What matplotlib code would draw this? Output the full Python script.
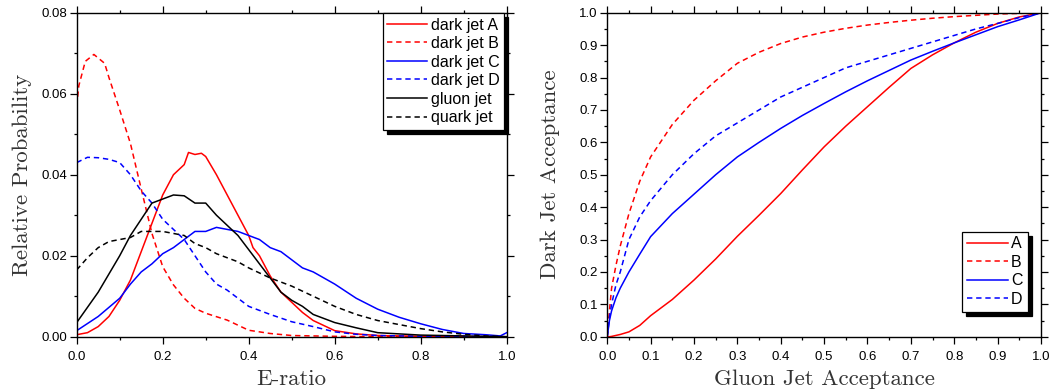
"""
E-ratio distributions and dark/gluon jet acceptance curves.
"""

import matplotlib
matplotlib.use("Agg")
import matplotlib.pyplot as plt
from matplotlib.ticker import MultipleLocator

# --- left panel: E-ratio distributions ---
x_a = [0.0, 0.025, 0.05, 0.075, 0.1, 0.125, 0.15, 0.175, 0.2, 0.225, 0.25, 0.26,
       0.275, 0.29, 0.3, 0.325, 0.35, 0.375, 0.4, 0.41, 0.425, 0.45, 0.475, 0.5,
       0.525, 0.55, 0.6, 0.65, 0.7, 0.8, 0.9, 1.0]
dark_a = [0.0005, 0.001, 0.0025, 0.005, 0.009, 0.014, 0.021, 0.028, 0.035, 0.040,
          0.0425, 0.0455, 0.045, 0.0453, 0.0445, 0.040, 0.035, 0.030, 0.025, 0.022,
          0.0200, 0.015, 0.011, 0.0085, 0.006, 0.004, 0.0015, 0.0007, 0.0003, 0.0001,
          0.0, 0.0]

x_b = [0.0, 0.005, 0.02, 0.04, 0.065, 0.075, 0.1, 0.125, 0.15, 0.175, 0.2, 0.225,
       0.25, 0.275, 0.3, 0.35, 0.4, 0.45, 0.5, 0.6, 0.7, 1.0]
dark_b = [0.057, 0.062, 0.068, 0.0697, 0.0675, 0.064, 0.056, 0.0477, 0.0365, 0.0255,
          0.0173, 0.0128, 0.0095, 0.007, 0.0058, 0.0041, 0.0016, 0.0008, 0.0003,
          0.0001, 0.0, 0.0]

x_c = [0.0, 0.05, 0.1, 0.125, 0.15, 0.175, 0.2, 0.225, 0.25, 0.275, 0.3, 0.325, 0.35,
       0.375, 0.4, 0.425, 0.45, 0.475, 0.5, 0.525, 0.55, 0.6, 0.65, 0.7, 0.75, 0.8,
       0.85, 0.9, 0.95, 0.985, 1.0]
dark_c = [0.0015, 0.005, 0.0095, 0.013, 0.016, 0.018, 0.0205, 0.022, 0.024, 0.026,
          0.026, 0.027, 0.0265, 0.026, 0.025, 0.024, 0.022, 0.021, 0.019, 0.017,
          0.016, 0.013, 0.0095, 0.0068, 0.0048, 0.0032, 0.0018, 0.0008, 0.0005,
          0.0002, 0.001]

x_d = [0.0, 0.025, 0.05, 0.075, 0.1, 0.125, 0.15, 0.175, 0.2, 0.225, 0.25, 0.275,
       0.3, 0.325, 0.35, 0.375, 0.4, 0.45, 0.5, 0.55, 0.6, 0.65, 0.7, 0.8, 1.0]
dark_d = [0.043, 0.0443, 0.0442, 0.0438, 0.043, 0.040, 0.036, 0.033, 0.029, 0.0265,
          0.024, 0.020, 0.016, 0.013, 0.0115, 0.0095, 0.0075, 0.0055, 0.0037, 0.0025,
          0.0012, 0.0006, 0.0003, 0.0001, 0.0]

x_g = [0.0, 0.05, 0.1, 0.125, 0.15, 0.175, 0.2, 0.225, 0.25, 0.275, 0.3, 0.325, 0.35,
       0.375, 0.4, 0.425, 0.45, 0.475, 0.5, 0.525, 0.55, 0.6, 0.65, 0.7, 0.75, 0.8,
       0.9, 1.0]
gluon = [0.0035, 0.011, 0.020, 0.025, 0.029, 0.033, 0.034, 0.035, 0.0348, 0.033,
         0.033, 0.030, 0.0275, 0.025, 0.0215, 0.018, 0.0145, 0.011, 0.009, 0.0075,
         0.0055, 0.0035, 0.0022, 0.001, 0.0007, 0.0004, 0.0002, 0.0]

x_q = [0.0, 0.025, 0.05, 0.075, 0.1, 0.125, 0.15, 0.175, 0.2, 0.225, 0.25, 0.275, 0.3,
       0.325, 0.35, 0.375, 0.4, 0.45, 0.5, 0.55, 0.6, 0.65, 0.7, 0.75, 0.8, 0.85, 0.9,
       0.95, 1.0]
quark = [0.0165, 0.0195, 0.022, 0.0235, 0.024, 0.0245, 0.026, 0.026, 0.026, 0.0255,
         0.025, 0.023, 0.022, 0.0205, 0.0195, 0.0185, 0.017, 0.0145, 0.0125, 0.010,
         0.0075, 0.0055, 0.004, 0.003, 0.002, 0.0012, 0.0006, 0.0002, 0.0]

# --- right panel: acceptance curves ---
acc_x = [0.0, 0.005, 0.01, 0.02, 0.03, 0.05, 0.075, 0.1, 0.15, 0.2, 0.25, 0.3, 0.35,
         0.4, 0.45, 0.5, 0.55, 0.6, 0.65, 0.7, 0.75, 0.8, 0.85, 0.9, 0.95, 1.0]
acc_a = [0.0, 0.0, 0.001, 0.004, 0.007, 0.015, 0.035, 0.065, 0.115, 0.175, 0.24,
         0.31, 0.375, 0.442, 0.515, 0.586, 0.65, 0.71, 0.77, 0.828, 0.87, 0.907,
         0.94, 0.967, 0.987, 1.0]
acc_b = [0.0, 0.08, 0.15, 0.22, 0.28, 0.38, 0.48, 0.555, 0.655, 0.73, 0.79, 0.844,
         0.878, 0.905, 0.925, 0.94, 0.952, 0.962, 0.97, 0.977, 0.983, 0.988, 0.992,
         0.996, 0.998, 1.0]
acc_c = [0.0, 0.05, 0.08, 0.12, 0.15, 0.2, 0.255, 0.309, 0.38, 0.44, 0.5, 0.555,
         0.6, 0.643, 0.683, 0.72, 0.756, 0.79, 0.822, 0.854, 0.881, 0.907, 0.932,
         0.957, 0.978, 1.0]
acc_d = [0.0, 0.06, 0.1, 0.16, 0.2, 0.3, 0.37, 0.42, 0.5, 0.565, 0.62, 0.66, 0.70,
         0.74, 0.77, 0.80, 0.83, 0.85, 0.87, 0.89, 0.91, 0.93, 0.95, 0.967, 0.985, 1.0]

_RED = "#FF0000"
_BLUE = "#0000FF"
_DASH = (0, (3.5, 2.5))
_LW = 1.1
_TICK_FONT = "Liberation Sans"
_LABEL_FONT = "cmr10"
_LABEL_SIZE = 16.5


def _style_axes(ax, major_x, minor_x, major_y, minor_y):
    ax.xaxis.set_major_locator(MultipleLocator(major_x))
    ax.xaxis.set_minor_locator(MultipleLocator(minor_x))
    ax.yaxis.set_major_locator(MultipleLocator(major_y))
    ax.yaxis.set_minor_locator(MultipleLocator(minor_y))
    ax.tick_params(which="both", direction="out", top=True, right=True,
                   labelsize=9.5, width=0.9)
    ax.tick_params(which="major", length=5)
    ax.tick_params(which="minor", length=2.5)
    ax.tick_params(axis="x", pad=5)
    ax.tick_params(axis="y", pad=2)
    for sp in ax.spines.values():
        sp.set_linewidth(1.0)


def _set_ticklabels(ax, fmt_x, fmt_y):
    ax.set_xticklabels([fmt_x.format(v) for v in ax.get_xticks()])
    ax.set_yticklabels([fmt_y.format(v) for v in ax.get_yticks()])
    for lab in ax.get_xticklabels() + ax.get_yticklabels():
        lab.set_fontfamily(_TICK_FONT)


def _legend(ax, **kw):
    leg = ax.legend(frameon=True, fancybox=False, edgecolor="black",
                    shadow={"color": "black", "alpha": 1.0, "ox": 3, "oy": -3},
                    prop={"family": _TICK_FONT, "size": 11.5},
                    borderpad=0.3, labelspacing=0.22, handletextpad=0.2,
                    borderaxespad=0.0, **kw)
    leg.get_frame().set_linewidth(0.9)
    leg.get_frame().set_alpha(1.0)
    return leg


fig = plt.figure(figsize=(10.55, 3.92), dpi=100)
ax1 = fig.add_axes([0.0727, 0.141, 0.4076, 0.8265])
ax2 = fig.add_axes([0.5756, 0.141, 0.4111, 0.8265])

ax1.plot(x_a, dark_a, color=_RED, lw=_LW, label="dark jet A")
ax1.plot(x_b, dark_b, color=_RED, lw=_LW, ls=_DASH, label="dark jet B")
ax1.plot(x_c, dark_c, color=_BLUE, lw=_LW, label="dark jet C")
ax1.plot(x_d, dark_d, color=_BLUE, lw=_LW, ls=_DASH, label="dark jet D")
ax1.plot(x_g, gluon, color="black", lw=_LW, label="gluon jet")
ax1.plot(x_q, quark, color="black", lw=_LW, ls=_DASH, label="quark jet")
ax1.set_xlim(0, 1.0)
ax1.set_ylim(0, 0.08)
_style_axes(ax1, 0.2, 0.1, 0.02, 0.01)
_set_ticklabels(ax1, "{:.1f}", "{:.2f}")
ax1.set_xlabel("E-ratio", family=_LABEL_FONT, fontsize=_LABEL_SIZE,
               color="#333333", labelpad=5)
ax1.set_ylabel("Relative Probability", family=_LABEL_FONT, fontsize=_LABEL_SIZE,
               color="#333333", labelpad=7)
_legend(ax1, loc="upper right", handlelength=2.5, bbox_to_anchor=(0.994, 1.0))

ax2.plot(acc_x, acc_a, color=_RED, lw=_LW, label="A")
ax2.plot(acc_x, acc_b, color=_RED, lw=_LW, ls=_DASH, label="B")
ax2.plot(acc_x, acc_c, color=_BLUE, lw=_LW, label="C")
ax2.plot(acc_x, acc_d, color=_BLUE, lw=_LW, ls=_DASH, label="D")
ax2.set_xlim(0, 1.0)
ax2.set_ylim(0, 1.0)
_style_axes(ax2, 0.1, 0.05, 0.1, 0.05)
_set_ticklabels(ax2, "{:.1f}", "{:.1f}")
ax2.set_xlabel("Gluon Jet Acceptance", family=_LABEL_FONT, fontsize=_LABEL_SIZE,
               color="#333333", labelpad=5)
ax2.set_ylabel("Dark Jet Acceptance", family=_LABEL_FONT, fontsize=_LABEL_SIZE,
               color="#333333", labelpad=14)
_legend(ax2, loc="lower right", handlelength=2.6, bbox_to_anchor=(0.969, 0.077))

fig.savefig("out.png", dpi=100)
